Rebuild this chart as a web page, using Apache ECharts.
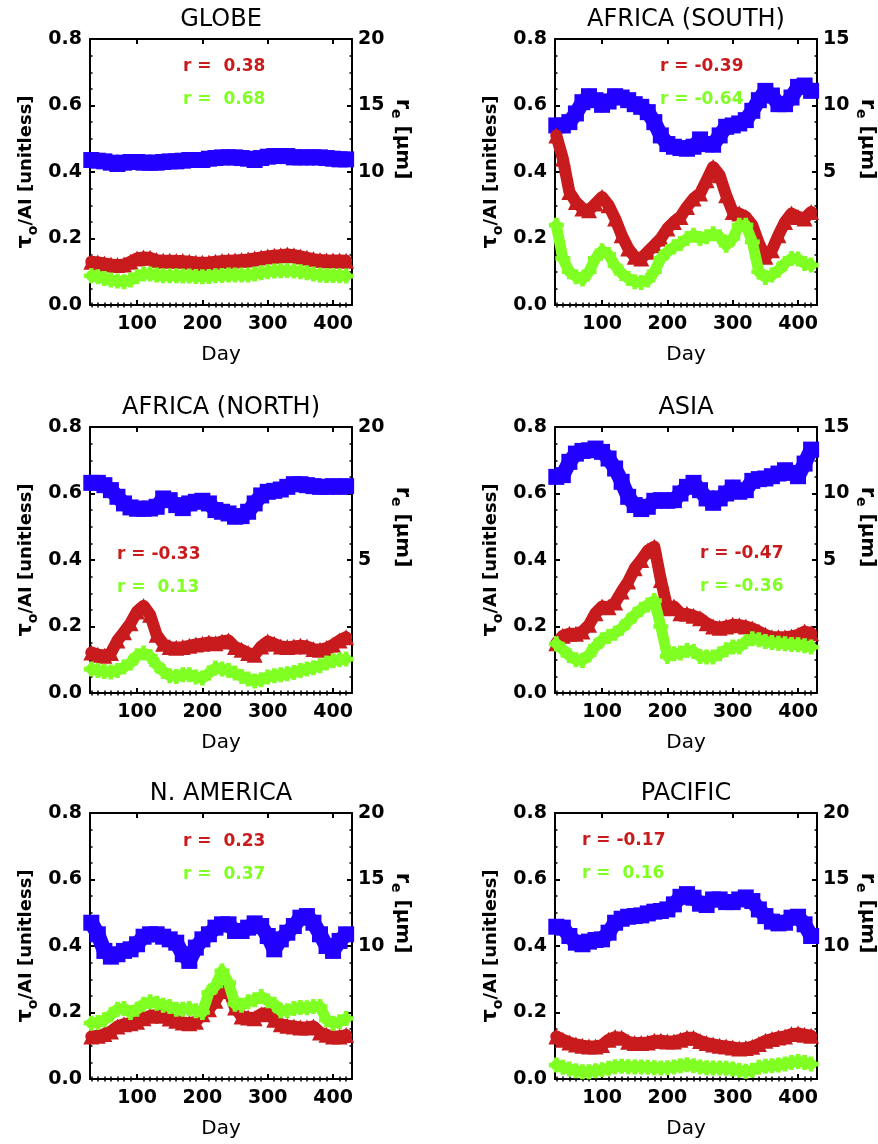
<!DOCTYPE html>
<html><head><meta charset="utf-8">
<script src="https://cdn.jsdelivr.net/npm/echarts@6/dist/echarts.min.js"></script>
<style>html,body{margin:0;padding:0;background:#fff}#c{width:878px;height:1144px}</style>
</head><body><div id="c"></div>
<script>
// ---------------- DATA ----------------
const days = [30,40,50,60,70,80,90,100,110,120,130,140,150,160,170,180,190,200,210,220,
              230,240,250,260,270,280,290,300,310,320,330,340,350,360,370,380,390,400,410,420];
const majorDayTicks = [100,200,300,400];
const minorDayTicks = [30,40,50,60,70,80,90,110,120,130,140,150,160,170,180,190,210,220,230,240,
                       250,260,270,280,290,310,320,330,340,350,360,370,380,390,410,420];
const tauTicks = [0.0,0.2,0.4,0.6,0.8];

// GLOBE
const globeRe  = [10.9,10.85,10.8,10.7,10.6,10.7,10.75,10.75,10.7,10.7,10.7,10.75,10.8,10.8,10.85,10.9,10.9,10.9,11.0,11.05,
                  11.1,11.1,11.1,11.05,11.0,10.9,11.05,11.15,11.2,11.2,11.2,11.1,11.1,11.1,11.1,11.1,11.05,11.0,10.95,10.95];
const globeAOD = [.13,.128,.125,.122,.12,.122,.13,.14,.143,.142,.135,.133,.133,.132,.132,.13,.128,.127,.128,.13,
                  .132,.133,.134,.135,.137,.14,.143,.146,.148,.15,.152,.15,.146,.142,.138,.135,.134,.134,.134,.133];
const globeAI  = [.088,.085,.08,.075,.072,.07,.075,.085,.093,.093,.09,.088,.088,.088,.087,.087,.086,.085,.086,.088,
                  .089,.09,.09,.09,.09,.093,.097,.1,.102,.103,.104,.102,.1,.097,.093,.09,.089,.089,.088,.087];
// AFRICA (SOUTH)
const afsRe  = [8.5,8.5,8.75,9.4,10.25,10.7,10.4,10.05,10.3,10.7,10.6,10.4,10.1,9.9,9.5,8.75,7.75,7.1,6.9,6.8,
                6.75,6.9,7.45,7.1,7.05,7.75,8.4,8.5,8.65,8.9,9.6,10.4,11.1,10.75,10.1,10.1,10.6,11.4,11.5,11.1];
const afsAOD = [.51,.44,.34,.31,.29,.285,.305,.325,.3,.26,.21,.17,.145,.14,.16,.18,.2,.23,.25,.265,
                .295,.32,.335,.375,.415,.39,.33,.28,.275,.265,.24,.185,.145,.165,.21,.25,.275,.265,.26,.28];
const afsAI  = [.24,.14,.1,.085,.078,.1,.14,.163,.152,.118,.095,.08,.07,.068,.075,.1,.14,.16,.175,.185,
                .2,.21,.2,.205,.214,.205,.18,.2,.24,.24,.19,.1,.083,.09,.105,.125,.14,.138,.125,.12];
// AFRICA (NORTH)
const afnRe  = [13.7,13.7,13.44,12.88,12.13,11.38,10.93,10.78,10.78,10.81,11.0,11.94,11.75,11.19,10.85,11.38,11.56,11.68,11.38,10.63,
                10.44,10.25,9.88,9.95,10.44,11.38,12.28,12.69,12.8,12.95,13.25,13.55,13.55,13.44,13.33,13.25,13.25,13.33,13.25,13.33];
const afnAOD = [.122,.115,.112,.12,.158,.183,.21,.245,.262,.235,.175,.148,.138,.136,.138,.142,.146,.148,.152,.15,
                .155,.158,.138,.13,.12,.115,.14,.155,.148,.14,.138,.14,.142,.14,.132,.13,.135,.145,.158,.168];
const afnAI  = [.072,.068,.065,.063,.068,.078,.09,.112,.12,.11,.085,.065,.052,.05,.055,.055,.048,.045,.06,.075,
                .072,.068,.06,.05,.042,.036,.04,.048,.052,.055,.058,.062,.068,.072,.076,.082,.09,.097,.1,.102];
// ASIA
const asiaRe  = [11.25,11.38,12.38,13.0,13.2,13.25,13.38,13.13,12.63,11.88,10.88,9.75,9.13,8.83,9.0,9.45,9.5,9.45,9.5,10.0,
                 10.5,10.8,10.25,9.63,9.3,9.63,10.0,10.45,10.13,10.25,10.95,11.08,11.13,11.3,11.5,11.75,11.55,11.3,12.25,13.3];
const asiaAOD = [.15,.172,.178,.178,.185,.205,.24,.26,.258,.272,.305,.335,.375,.4,.428,.44,.34,.255,.26,.24,
                 .238,.232,.225,.21,.2,.196,.2,.205,.204,.2,.194,.185,.175,.168,.168,.168,.17,.175,.185,.18];
const asiaAI  = [.148,.13,.112,.1,.098,.115,.14,.16,.17,.18,.195,.215,.235,.252,.265,.278,.2,.11,.118,.12,
                 .128,.125,.11,.108,.108,.118,.13,.138,.138,.155,.163,.16,.155,.152,.15,.148,.146,.145,.142,.138];
// N. AMERICA
const naRe  = [11.75,10.88,9.63,9.2,9.38,9.63,9.75,10.13,10.7,10.88,10.88,10.7,10.5,10.25,9.38,8.88,9.88,10.5,10.88,11.38,
               11.63,11.63,11.13,11.13,11.38,11.7,11.5,10.75,9.75,10.5,11.0,11.5,12.13,12.25,11.75,10.88,10.0,9.63,10.38,10.88];
const naAOD = [.128,.13,.135,.143,.158,.165,.168,.172,.183,.19,.193,.19,.182,.175,.17,.168,.172,.195,.21,.235,
               .27,.265,.215,.188,.185,.183,.195,.2,.178,.165,.16,.158,.155,.155,.158,.14,.133,.128,.128,.132];
const naAI  = [.168,.17,.178,.193,.21,.212,.2,.21,.225,.232,.228,.222,.218,.21,.21,.212,.205,.2,.26,.28,
               .325,.29,.225,.222,.232,.238,.248,.235,.225,.205,.205,.212,.215,.214,.218,.218,.178,.168,.172,.182];
// PACIFIC
const pacRe  = [11.45,11.38,10.75,10.25,10.13,10.33,10.45,10.5,11.0,11.75,12.05,12.2,12.25,12.3,12.45,12.58,12.63,12.75,13.13,13.7,
                13.9,13.63,13.18,13.08,13.5,13.5,13.3,13.3,13.5,13.65,13.38,12.75,12.25,11.83,11.7,11.75,12.13,12.2,11.63,10.75];
const pacAOD = [.128,.118,.11,.104,.1,.098,.098,.102,.118,.126,.124,.112,.108,.108,.11,.115,.115,.113,.113,.118,
                .124,.124,.114,.108,.104,.1,.098,.095,.092,.093,.097,.105,.115,.12,.125,.128,.135,.137,.133,.13];
const pacAI  = [.042,.035,.03,.025,.022,.022,.025,.028,.032,.037,.038,.037,.036,.036,.035,.034,.033,.034,.036,.04,
                .043,.04,.036,.034,.033,.033,.032,.03,.026,.023,.026,.035,.038,.04,.042,.045,.05,.053,.05,.045];

const panelTitles = ['GLOBE','AFRICA (SOUTH)','AFRICA (NORTH)','ASIA','N. AMERICA','PACIFIC'];
const corrAOD = ['r =  0.38','r = -0.39','r = -0.33','r = -0.47','r =  0.23','r = -0.17'];
const corrAI  = ['r =  0.68','r = -0.64','r =  0.13','r = -0.36','r =  0.37','r =  0.16'];
const reRanges = [[0,20],[-5,15],[-10,20],[-5,15],[0,20],[0,20]];
const reLabelValues = [[10,15,20],[5,10,15],[5,20],[5,10,15],[10,15,20],[10,15,20]];

// ---------------- STYLE / LAYOUT ----------------
const FONT = '"DejaVu Sans", sans-serif';
const BLUE = '#2200FF', RED = '#C81B1E', GREEN = '#80FF22';
const PLUS = 'path://M-1,-3.2H1V-1H3.2V1H1V3.2H-1V1H-3.2V-1H-1Z';
const colX = [90, 555], rowY = [39, 427, 813], W = 262, H = 266;
const annOffset = [[93,28],[105,28],[27,128],[145,127],[93,29],[27,28]];

const panels = [
  {re: globeRe, aod: globeAOD, ai: globeAI},
  {re: afsRe,   aod: afsAOD,   ai: afsAI},
  {re: afnRe,   aod: afnAOD,   ai: afnAI},
  {re: asiaRe,  aod: asiaAOD,  ai: asiaAI},
  {re: naRe,    aod: naAOD,    ai: naAI},
  {re: pacRe,   aod: pacAOD,   ai: pacAI}
];

const black = {color:'#000', width:2};
const grids = [], xAxes = [], yAxes = [], series = [], graphics = [];

panels.forEach((p, i) => {
  const bx = colX[i % 2], by = rowY[Math.floor(i / 2)];
  grids.push({left: bx, top: by, width: W, height: H, containLabel: false, outerBoundsMode: 'none'});
  const xb = {gridIndex: i, type: 'value', min: 28, max: 429, splitLine: {show: false}};
  xAxes.push(Object.assign({}, xb, {
    position: 'bottom',
    axisLine: {show: true, onZero: false, lineStyle: black},
    axisTick: {show: true, inside: true, length: 5, customValues: majorDayTicks, lineStyle: black},
    axisLabel: {show: true, customValues: majorDayTicks, color: '#000', fontSize: 19, fontWeight: 'bold', fontFamily: FONT, margin: 10},
    name: 'Day', nameLocation: 'middle', nameGap: 40,
    nameTextStyle: {color: '#000', fontSize: 20, fontFamily: FONT}
  }));
  xAxes.push(Object.assign({}, xb, {
    position: 'top',
    axisLine: {show: true, onZero: false, lineStyle: black},
    axisTick: {show: true, inside: true, length: 5, customValues: majorDayTicks, lineStyle: black},
    axisLabel: {show: false}
  }));
  xAxes.push(Object.assign({}, xb, {
    position: 'bottom', axisLine: {show: false},
    axisTick: {show: true, inside: true, length: 2.5, customValues: minorDayTicks, lineStyle: {color:'#000', width:1.5}},
    axisLabel: {show: false}
  }));
  xAxes.push(Object.assign({}, xb, {
    position: 'top', axisLine: {show: false},
    axisTick: {show: true, inside: true, length: 2.5, customValues: minorDayTicks, lineStyle: {color:'#000', width:1.5}},
    axisLabel: {show: false}
  }));

  const yb = {gridIndex: i, type: 'value', min: tauTicks[0], max: tauTicks[tauTicks.length-1], interval: 0.2,
    splitLine: {show: false}, minorSplitLine: {show: false},
    axisLine: {show: true, onZero: false, lineStyle: black},
    axisTick: {show: true, inside: true, length: 5, lineStyle: black},
    minorTick: {show: true, splitNumber: 4, length: 2.5, lineStyle: {color:'#000', width:1.5}}};
  yAxes.push(Object.assign({}, yb, {
    position: 'left',
    axisLabel: {formatter: v => v.toFixed(1), color: '#000', fontSize: 19, fontWeight: 'bold', fontFamily: FONT, margin: 8},
    name: '{t|τ}{s|o}{n|/AI [unitless]}', nameLocation: 'middle', nameRotate: 90, nameGap: 50,
    nameTextStyle: {color: '#000', fontFamily: FONT, rich: {
      t: {fontSize: 21, fontWeight: 'bold', fontFamily: FONT, lineHeight: 28, color: '#000'},
      s: {fontSize: 14, fontWeight: 'bold', fontFamily: FONT, lineHeight: 13, verticalAlign: 'bottom', color: '#000'},
      n: {fontSize: 18, fontWeight: 'bold', fontFamily: FONT, lineHeight: 28, color: '#000'}
    }}
  }));
  yAxes.push(Object.assign({}, yb, {position: 'right', axisLabel: {show: false}}));
  yAxes.push({
    gridIndex: i, type: 'value', position: 'right', min: reRanges[i][0], max: reRanges[i][1],
    splitLine: {show: false}, axisLine: {show: false}, axisTick: {show: false},
    axisLabel: {customValues: reLabelValues[i], color: '#000', fontSize: 19, fontWeight: 'bold', fontFamily: FONT, margin: 6},
    name: '{t|r}{s|e}{n| [μm]}', nameLocation: 'middle', nameRotate: -90, nameGap: 33,
    nameTextStyle: {color: '#000', fontFamily: FONT, padding: [0, 66, 0, 0], rich: {
      t: {fontSize: 21, fontWeight: 'bold', fontFamily: FONT, lineHeight: 28, color: '#000'},
      s: {fontSize: 14, fontWeight: 'bold', fontFamily: FONT, lineHeight: 13, verticalAlign: 'bottom', color: '#000'},
      n: {fontSize: 20, fontWeight: 'bold', fontFamily: FONT, lineHeight: 28, color: '#000'}
    }}
  });

  const common = {type: 'line', xAxisIndex: 4*i, showAllSymbol: true, silent: true, animation: false};
  series.push(Object.assign({}, common, {
    yAxisIndex: 3*i + 2, data: days.map((d, k) => [d, p.re[k]]),
    symbol: 'rect', symbolSize: 16, itemStyle: {color: BLUE},
    lineStyle: {color: BLUE, width: 15, join: 'round', cap: 'round'}, z: 2
  }));
  series.push(Object.assign({}, common, {
    yAxisIndex: 3*i, data: days.map((d, k) => [d, p.aod[k]]),
    symbol: 'triangle', symbolSize: 16, itemStyle: {color: RED},
    lineStyle: {color: RED, width: 12, join: 'round', cap: 'round'}, z: 3
  }));
  series.push(Object.assign({}, common, {
    yAxisIndex: 3*i, data: days.map((d, k) => [d, p.ai[k]]),
    symbol: PLUS, symbolSize: 15, itemStyle: {color: GREEN},
    lineStyle: {color: GREEN, width: 11, join: 'round', cap: 'round'}, z: 4
  }));

  graphics.push({type: 'text', x: bx + W/2, y: by - 19, silent: true, style: {
    text: panelTitles[i], fill: '#000', font: '24px ' + FONT, textAlign: 'center', textVerticalAlign: 'middle'}});
  graphics.push({type: 'text', x: bx + annOffset[i][0], y: by + annOffset[i][1], silent: true, style: {
    text: corrAOD[i], fill: RED, font: 'bold 17px ' + FONT, textAlign: 'left', textVerticalAlign: 'middle'}});
  graphics.push({type: 'text', x: bx + annOffset[i][0], y: by + annOffset[i][1] + 33, silent: true, style: {
    text: corrAI[i], fill: GREEN, font: 'bold 17px ' + FONT, textAlign: 'left', textVerticalAlign: 'middle'}});
});

const chart = echarts.init(document.getElementById('c'), null, {renderer: 'canvas'});
chart.setOption({
  backgroundColor: '#fff', animation: false,
  grid: grids, xAxis: xAxes, yAxis: yAxes, series: series, graphic: graphics
});
</script></body></html>
